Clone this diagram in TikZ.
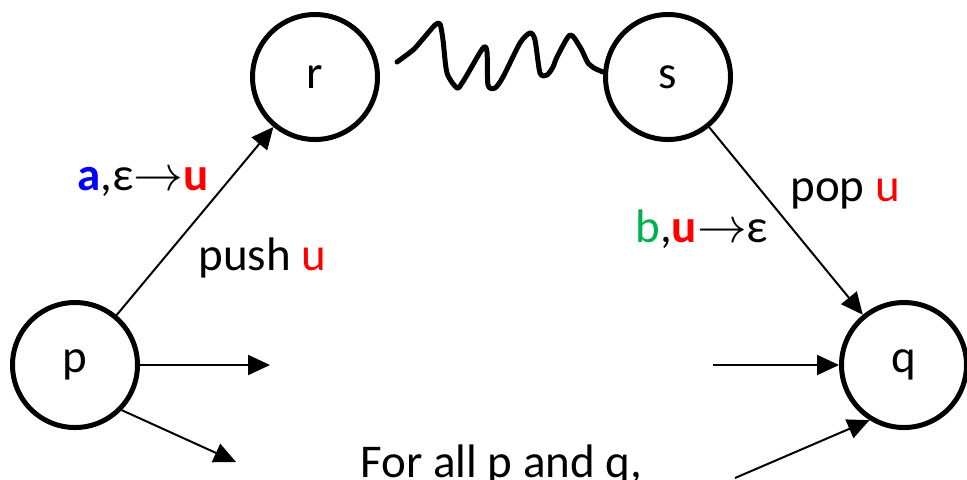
\documentclass[tikz,border=0pt]{standalone}
\usepackage{fontspec}
\setmainfont{Carlito}
\usetikzlibrary{arrows.meta}
\definecolor{ublue}{RGB}{0,0,255}
\definecolor{ured}{RGB}{255,0,0}
\definecolor{ugreen}{RGB}{0,176,80}
\tikzset{
  state/.style={circle, draw, line width=2.5pt, minimum size=62.5pt, inner sep=0pt, font=\fontsize{23.5}{28}\selectfont},
  edge/.style={line width=1pt, -{Triangle[length=11pt,width=10pt]}},
  lbl/.style={anchor=base west, inner sep=0pt, font=\fontsize{23.5}{28}\selectfont},
  wave/.style={line width=2.5pt, line cap=round, line join=round}
}
\begin{document}
\begin{tikzpicture}[x=0.5pt,y=-0.5pt]
\useasboundingbox (0,0) rectangle (967,479);
\node[state] (r) at (315,77) {r};
\node[state] (s) at (668,77) {s};
\node[state] (p) at (75,365) {p};
\node[state] (q) at (904,365) {q};
\coordinate (a1) at (270,365);
\coordinate (a2) at (713,365);
\coordinate (a3) at (236,462);
\coordinate (a4) at (735,478);
\draw[edge] (p) -- (r);
\draw[edge] (s) -- (q);
\draw[edge] (p.east) -- (a1);
\draw[edge] (a2) -- (q.west);
\draw[edge] (p.-44) -- (a3);
\draw[edge] (a4) -- (q.-122);
\draw[wave] plot[smooth, tension=0.45] coordinates {(397,62) (413,50) (422,40) (435,25) (440,24) (443,40) (447,73) (457,88) (462,83) (467,75) (483,48) (487,52) (488,85) (495,88) (503,77) (520,43) (530,33) (535,40) (540,73) (547,75) (553,67) (557,57) (570,35) (580,47) (585,57) (588,63) (594,68) (603,72)};
\node[lbl] (l1) at (77,190) {\textcolor{ublue}{\textbf{a}},ε$\rightarrow$\textcolor{ured}{\textbf{u}}};
\node[lbl] (l2) at (198,270) {push \textcolor{ured}{u}};
\node[lbl] (l3) at (635,242) {\textcolor{ugreen}{b},\textcolor{ured}{\textbf{u}}$\rightarrow$ε};
\node[lbl] (l4) at (790,201) {pop \textcolor{ured}{u}};
\node[lbl] (l5) at (360,477) {For all p and q,};
\end{tikzpicture}
\end{document}
